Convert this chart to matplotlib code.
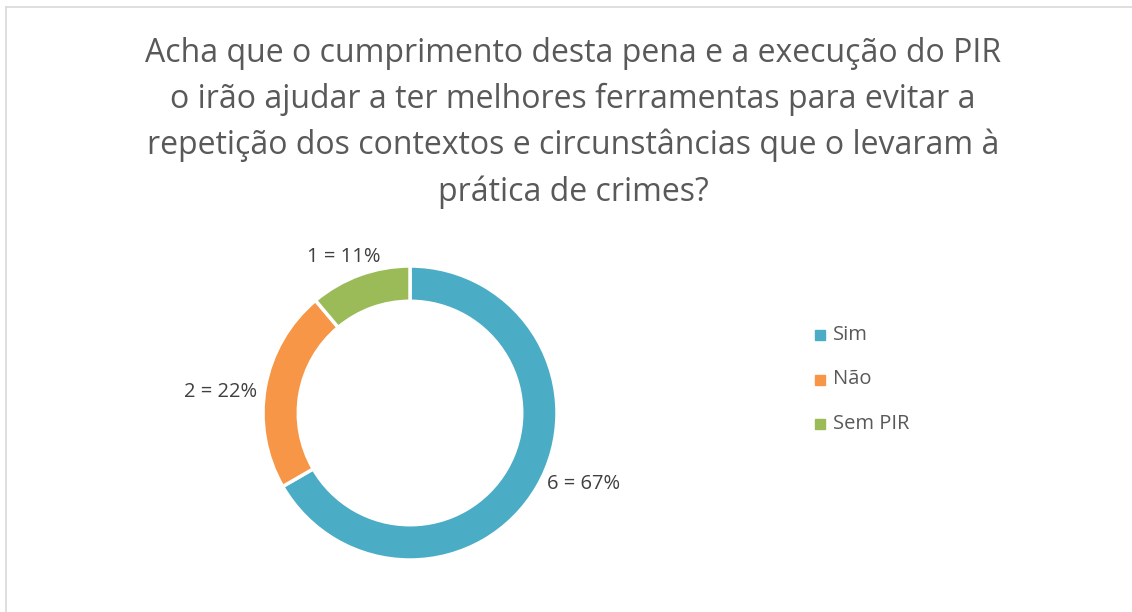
import matplotlib.pyplot as plt
from matplotlib.patches import Rectangle

categories = ['Sim', 'Não', 'Sem PIR']
counts = [6, 2, 1]
colors = ['#4BACC6', '#F79646', '#9BBB59']
title = ('Acha que o cumprimento desta pena e a execução do PIR\n'
         'o irão ajudar a ter melhores ferramentas para evitar a\n'
         'repetição dos contextos e circunstâncias que o levaram à\n'
         'prática de crimes?')

plt.rcParams['font.family'] = ['Open Sans', 'DejaVu Sans']
W, H = 1132, 612
fig = plt.figure(figsize=(W / 100, H / 100), dpi=100)

# light chart border (top and left visible)
fig.add_artist(plt.Line2D([6 / W, 1], [1 - 7 / H, 1 - 7 / H], color='#D9D9D9', lw=1.2))
fig.add_artist(plt.Line2D([6 / W, 6 / W], [0, 1 - 7 / H], color='#D9D9D9', lw=1.2))

fig.text(573 / W, 1 - 123 / H, title, ha='center', va='center', fontsize=23,
         color='#595959', linespacing=1.5)

# donut
cx, cy, r = 410, 413, 147
ax = fig.add_axes([(cx - r) / W, (H - cy - r) / H, 2 * r / W, 2 * r / H])
wedges, _ = ax.pie(counts, colors=colors, startangle=90, counterclock=False,
                   radius=1, wedgeprops=dict(width=0.24, edgecolor='white', linewidth=2.5))
ax.set_xlim(-1, 1)
ax.set_ylim(-1, 1)
ax.set_aspect('equal')
ax.axis('off')

total = sum(counts)
label_pos = [(1.18, -0.48), (-1.29, 0.14), (-0.45, 1.06)]
for n, (lx, ly) in zip(counts, label_pos):
    ax.text(lx, ly, f'{n} = {round(100 * n / total)}%', ha='center', va='center',
            fontsize=14.5, color='#404040', clip_on=False)

# legend
for i, (name, c) in enumerate(zip(categories, colors)):
    y = 335 + i * 44.5
    fig.add_artist(Rectangle((815 / W, 1 - (y + 5) / H), 10 / W, 10 / H,
                             transform=fig.transFigure, color=c))
    fig.text(833 / W, 1 - y / H, name, ha='left', va='center', fontsize=14.5, color='#595959')

fig.savefig('out.png', dpi=100, facecolor='white')
